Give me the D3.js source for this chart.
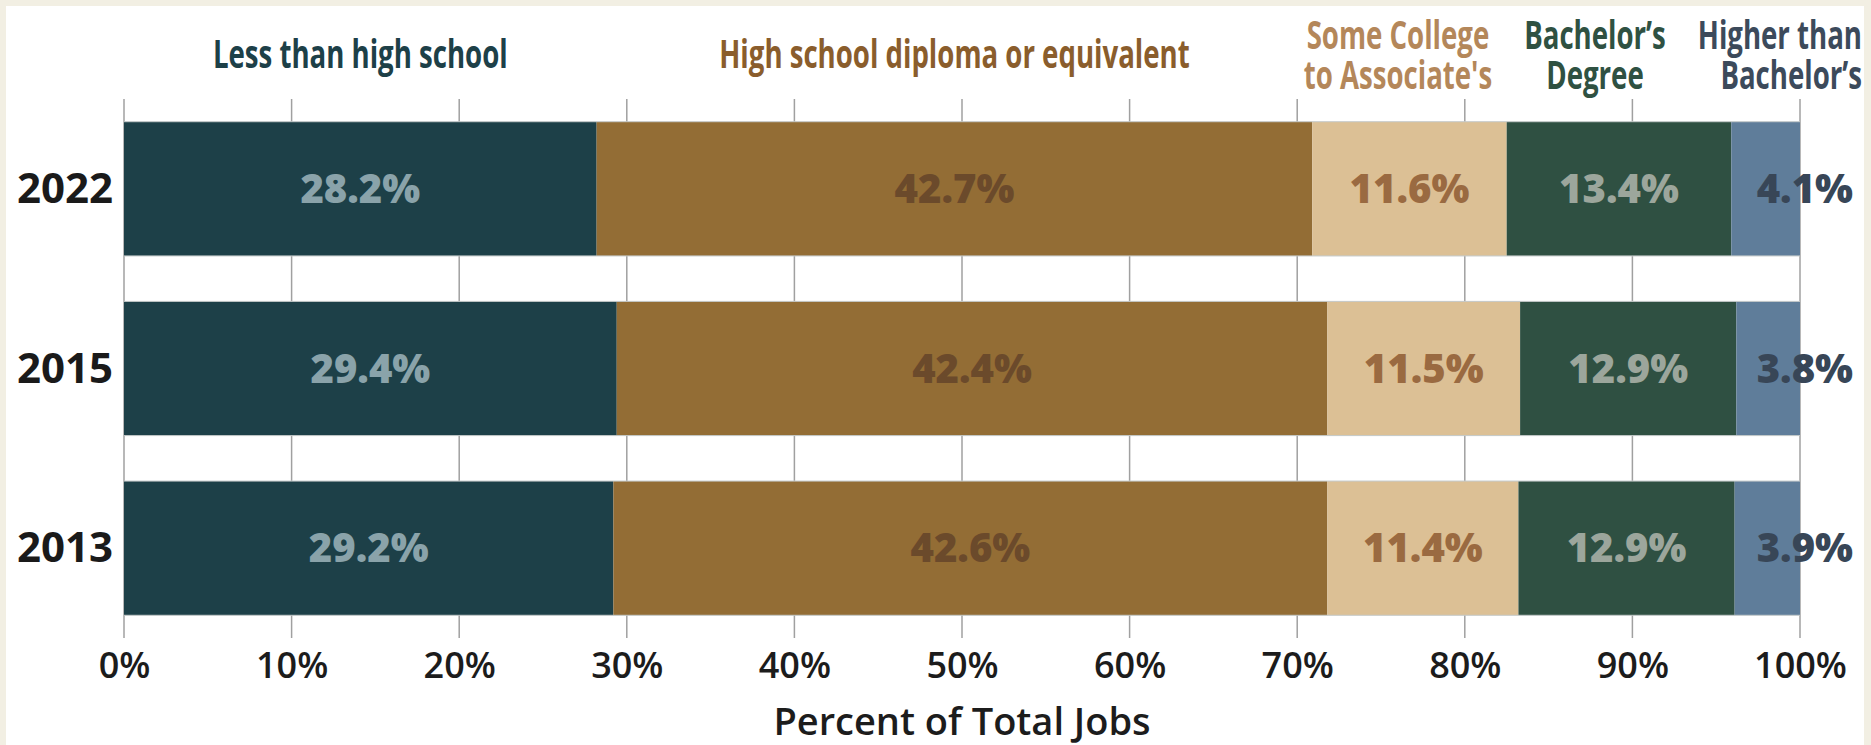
<!DOCTYPE html>
<html>
<head>
<meta charset="utf-8">
<script src="https://cdn.jsdelivr.net/npm/d3@7"></script>
<style>
  body { margin: 0; background: #f2efe3; overflow: hidden; }
  text { font-family: "Open Sans", "Noto Sans", sans-serif; }
</style>
</head>
<body>
<script>

const years = ["2022", "2015", "2013"];
const categories = ["less", "highschool", "somecollege", "bachelor", "higher"];
const headers = [
  ["Less than high school"],
  ["High school diploma or equivalent"],
  ["Some College", "to Associate's"],
  ["Bachelor’s", "Degree"],
  ["Higher than", "Bachelor’s"]
];
const values2022 = [28.2, 42.7, 11.6, 13.4, 4.1];
const values2015 = [29.4, 42.4, 11.5, 12.9, 3.8];
const values2013 = [29.2, 42.6, 11.4, 12.9, 3.9];
const tickValues = [0, 10, 20, 30, 40, 50, 60, 70, 80, 90, 100];
const axisTitle = "Percent of Total Jobs";

let svg, x, y, series;

const w = 1871;
const h = 745;
const condense = 0.69;

const barColors = ["#1d4048", "#936d35", "#dcc095", "#2f5042", "#5f7d9a"];
const labelColors = ["#8aa3aa", "#6b4a2b", "#9a6a41", "#9ca69c", "#384657"];
const headerColors = ["#1d4048", "#8a5d2c", "#b4875a", "#2f5142", "#3c4a5b"];

const init = () => {
  const rows = [values2022, values2015, values2013].map((vals, i) => {
    const row = { year: years[i] };
    categories.forEach((c, j) => row[c] = vals[j]);
    return row;
  });
  series = d3.stack().keys(categories)(rows);

  createSvg();
  createScales();
  createGrid();
  createBars();
  createLabels();
  createAxis();
  createHeaders();
}

const createSvg = () => {
  svg = d3.select("body")
    .append("svg")
    .attr("width", w)
    .attr("height", h);

  svg.append("rect")
    .attr("x", 6)
    .attr("y", 6)
    .attr("width", 1858)
    .attr("height", h)
    .attr("fill", "#fff");
}

const createScales = () => {
  x = d3.scaleLinear()
    .domain([0, 100])
    .range([124, 1800]);

  y = d3.scaleBand()
    .domain(years)
    .range([99, 638])
    .paddingInner(0.253)
    .paddingOuter(0.1265);
}

const createGrid = () => {
  svg.append("g")
    .selectAll("line")
    .data(tickValues)
    .join("line")
    .attr("x1", d => x(d))
    .attr("x2", d => x(d))
    .attr("y1", y.range()[0])
    .attr("y2", y.range()[1])
    .attr("stroke", "#a0a0a0")
    .attr("stroke-width", 1.5);
}

const createBars = () => {
  svg.append("g")
    .selectAll("g")
    .data(series)
    .join("g")
    .attr("fill", (d, i) => barColors[i])
    .selectAll("rect")
    .data(d => d)
    .join("rect")
    .attr("x", d => x(d[0]))
    .attr("y", d => y(d.data.year))
    .attr("width", d => x(d[1]) - x(d[0]))
    .attr("height", y.bandwidth());

  // faint edge along top and bottom of every bar
  const edges = years.flatMap(yr => [y(yr), y(yr) + y.bandwidth()]);
  svg.append("g")
    .selectAll("line")
    .data(edges)
    .join("line")
    .attr("x1", x(0))
    .attr("x2", x(100))
    .attr("y1", d => d)
    .attr("y2", d => d)
    .attr("stroke", "#c4c9c9")
    .attr("stroke-width", 1);
}

const createLabels = () => {
  // years on the left
  svg.append("g")
    .selectAll("text")
    .data(years)
    .join("text")
    .attr("x", x(0) - 11)
    .attr("y", d => y(d) + y.bandwidth() / 2 + 14)
    .attr("text-anchor", "end")
    .style("font-size", "42px")
    .style("font-weight", 700)
    .style("fill", "#1a1a1a")
    .text(d => d);

  // values inside the segments, the last one spills past the bar end
  const last = categories.length - 1;
  series.forEach((s, i) => {
    svg.append("g")
      .selectAll("text")
      .data(s)
      .join("text")
      .attr("x", d => i === last ? x(100) + 53 : (x(d[0]) + x(d[1])) / 2)
      .attr("y", d => y(d.data.year) + y.bandwidth() / 2 + 14)
      .attr("text-anchor", i === last ? "end" : "middle")
      .style("font-size", "40px")
      .style("font-weight", 800)
      .style("fill", labelColors[i])
      .text(d => (d[1] - d[0]).toFixed(1) + "%");
  });
}

const createAxis = () => {
  const axis = svg.append("g")
    .attr("transform", `translate(0, ${y.range()[1]})`)
    .call(d3.axisBottom(x)
      .tickValues(tickValues)
      .tickFormat(d => d + "%")
      .tickSize(0)
      .tickPadding(14));

  axis.select(".domain").remove();
  axis.selectAll("text")
    .style("font-family", "'Open Sans', sans-serif")
    .style("font-size", "36px")
    .style("font-weight", 600)
    .style("fill", "#1c1c1c");

  svg.append("text")
    .attr("x", (x.range()[0] + x.range()[1]) / 2)
    .attr("y", 735)
    .attr("text-anchor", "middle")
    .style("font-size", "38px")
    .style("font-weight", 600)
    .style("fill", "#1c1c1c")
    .text(axisTitle);
}

const createHeaders = () => {
  const first = series.map(s => s[0]);
  const last = headers.length - 1;
  const groups = [];

  headers.forEach((lines, i) => {
    const d = first[i];
    const cx = i === last ? 1862 : (x(d[0]) + x(d[1])) / 2;
    const top = lines.length === 1 ? 68 : 49;

    const g = svg.append("g")
      .attr("transform", `translate(${cx}, 0)`);

    g.selectAll("text")
      .data(lines)
      .join("text")
      .attr("x", 0)
      .attr("y", (t, k) => top + k * 40)
      .attr("text-anchor", i === last ? "end" : "middle")
      .style("font-size", "40px")
      .style("font-weight", 700)
      .style("fill", headerColors[i])
      .text(t => t)
      .each(function() {
        // squeeze into a condensed look
        const len = this.getComputedTextLength();
        d3.select(this)
          .attr("textLength", len * condense)
          .attr("lengthAdjust", "spacingAndGlyphs");
      });

    groups.push({ g, cx });
  });

  // keep a gap between neighbouring headers, working from the right
  for (let i = last - 1; i >= 0; i--) {
    const next = groups[i + 1].g.node().getBBox();
    const nextLeft = groups[i + 1].cx + next.x;
    const box = groups[i].g.node().getBBox();
    const right = groups[i].cx + box.x + box.width;
    const limit = nextLeft - 32;
    if (right > limit) {
      groups[i].cx -= right - limit;
      groups[i].g.attr("transform", `translate(${groups[i].cx}, 0)`);
    }
  }
}

init();
</script>
</body>
</html>
